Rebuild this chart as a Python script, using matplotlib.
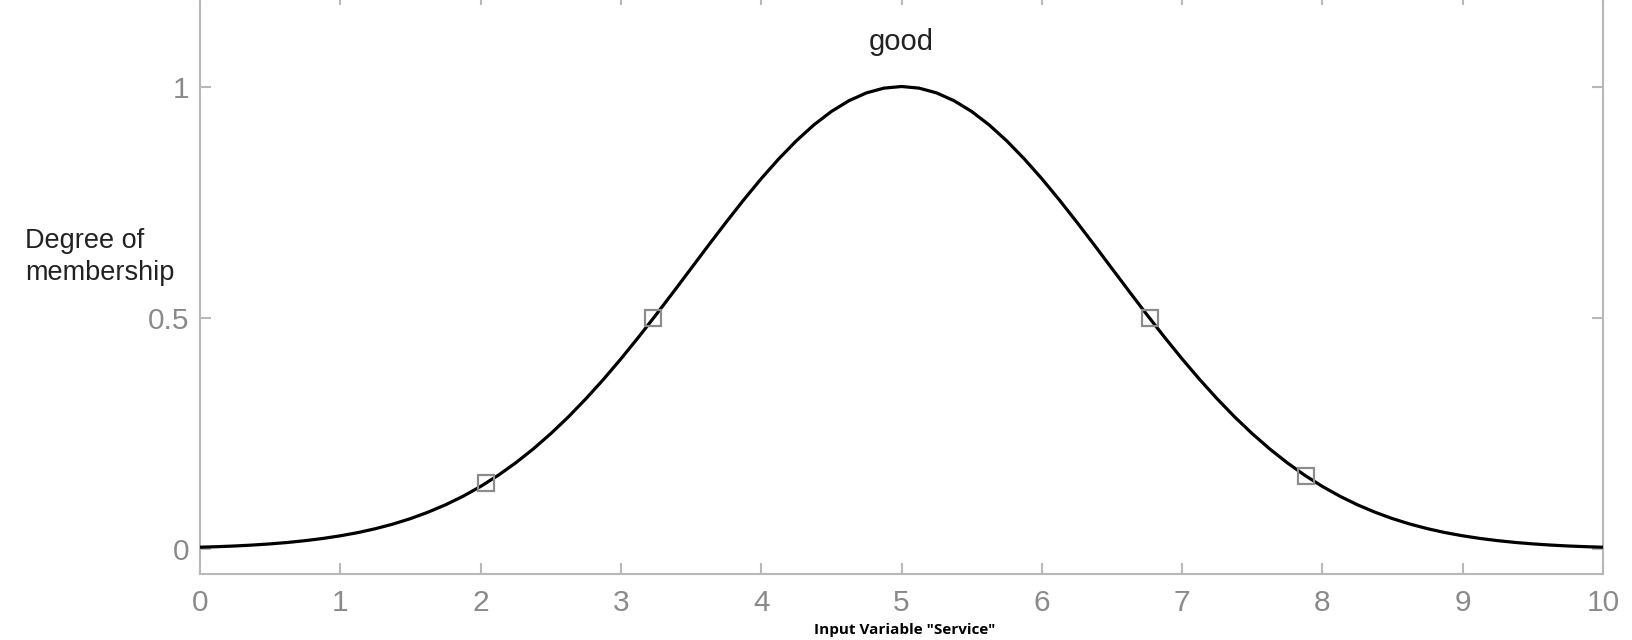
import matplotlib
matplotlib.use("Agg")
import matplotlib.pyplot as plt

# membership curve, x from 0 to 10 in steps of 0.125
x_vals = [i * 0.125 for i in range(81)]
left_half = [0.0039, 0.0051, 0.0066, 0.0086, 0.0111, 0.0142, 0.0181, 0.0228, 0.0286, 0.0355,
             0.0439, 0.0539, 0.0657, 0.0796, 0.0956, 0.1141, 0.1353, 0.1593, 0.1863, 0.2163,
             0.2494, 0.2855, 0.3247, 0.3666, 0.4111, 0.4578, 0.5063, 0.5561, 0.6065, 0.6570,
             0.7066, 0.7548, 0.8007, 0.8435, 0.8825, 0.9169, 0.9460, 0.9692, 0.9862, 0.9965]
mu_vals = left_half + [1.0] + left_half[::-1]

# square markers on the curve
mark_x = [2.04, 3.23, 6.77, 7.88]
mark_y = [0.143, 0.5, 0.5, 0.158]

x_ticks = [0, 1, 2, 3, 4, 5, 6, 7, 8, 9, 10]
y_ticks = [0, 0.5, 1]
y_labels = ["0", "0.5", "1"]

plt.rcParams["font.family"] = ["Liberation Sans", "DejaVu Sans"]

fig = plt.figure(figsize=(16.32, 6.4), dpi=100)
ax = fig.add_axes([200 / 1632, (640 - 574) / 640, 1403 / 1632, 1.25 * 464 / 640])

ax.plot(x_vals, mu_vals, color="black", linewidth=2.3, zorder=3)
ax.plot(mark_x, mark_y, linestyle="none", marker="s", markersize=12,
        markerfacecolor="none", markeredgecolor="#8c8c8c", markeredgewidth=1.6, zorder=4)

ax.set_xlim(0, 10)
ax.set_ylim(-0.054, 1.2)
ax.set_xticks(x_ticks)
ax.set_yticks(y_ticks)
ax.set_yticklabels(y_labels)

for s in ax.spines.values():
    s.set_color("#b8b8b8")
    s.set_linewidth(1.5)
ax.tick_params(direction="in", length=8, width=1.5, color="#b8b8b8",
               labelcolor="#8a8a8a", labelsize=21.5, top=True, right=True)
ax.tick_params(axis="y", pad=8)
ax.tick_params(axis="x", pad=11)

ax.text(5, 1.097, "good", ha="center", va="center", fontsize=21, color="#222222")
fig.text(25 / 1632, 1 - 257 / 640, "Degree of\nmembership", ha="left", va="center",
         fontsize=19.5, color="#222222", linespacing=1.25)
fig.text(905 / 1632, 1 - 630 / 640, 'Input Variable "Service"', ha="center", va="center",
         fontsize=11, fontweight="bold", family=["Open Sans", "DejaVu Sans"], color="black")

fig.savefig("out.png", dpi=100)
